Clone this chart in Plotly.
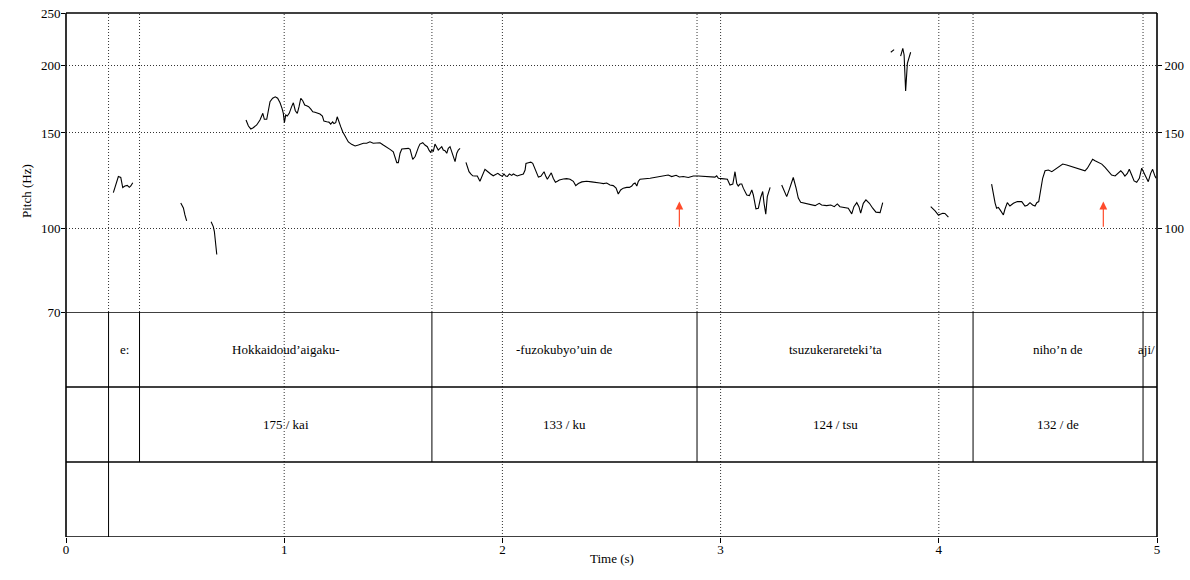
import math
import plotly.graph_objects as go

# ---------------- data ----------------
seg1_t = [0.217, 0.229, 0.240, 0.251, 0.260, 0.270, 0.281, 0.290, 0.297, 0.306]
seg1_hz = [116.4, 121.1, 124.6, 124.1, 118.9, 119.7, 120.0, 119.0, 119.7, 121.4]

seg2_t = [0.526, 0.538, 0.545, 0.553]
seg2_hz = [111.3, 109.0, 105.8, 103.2]

seg3_t = [0.665, 0.675, 0.680, 0.684, 0.691]
seg3_hz = [102.8, 100.7, 98.6, 93.8, 89.4]

seg4_t = [0.825, 0.836, 0.847, 0.858, 0.874, 0.889, 0.902, 0.909, 0.920, 0.929,
          0.935, 0.947, 0.959, 0.970, 0.981, 0.990, 0.996, 1.001, 1.007, 1.014,
          1.023, 1.034, 1.042, 1.051, 1.060, 1.068, 1.076, 1.085, 1.094, 1.103,
          1.112, 1.123, 1.131, 1.141, 1.152, 1.164, 1.175, 1.182, 1.195, 1.205,
          1.213, 1.222, 1.228, 1.236, 1.243, 1.253, 1.259, 1.268, 1.279, 1.294,
          1.309, 1.325, 1.340, 1.363, 1.378, 1.393, 1.408, 1.424, 1.439, 1.454,
          1.470, 1.485, 1.500, 1.508, 1.516, 1.523, 1.531, 1.539, 1.554, 1.569,
          1.577, 1.584, 1.589, 1.600, 1.607, 1.615, 1.622, 1.635, 1.645, 1.656,
          1.665, 1.671, 1.677, 1.683, 1.691, 1.699, 1.706, 1.714, 1.722, 1.729,
          1.737, 1.745, 1.752, 1.760, 1.768, 1.775, 1.783, 1.791, 1.798, 1.806]
seg4_hz = [158.5, 154.5, 152.6, 153.4, 155.2, 158.5, 163.1, 159.0, 159.0, 165.4,
           171.4, 173.9, 175.0, 173.9, 170.6, 166.6, 163.1, 156.7, 161.9, 161.2,
           163.1, 167.8, 170.6, 164.9, 163.1, 167.8, 173.9, 172.1, 169.0, 168.5,
           167.8, 165.9, 164.2, 163.8, 163.1, 162.6, 161.2, 157.8, 157.3, 157.1,
           155.8, 157.3, 156.2, 156.7, 160.7, 157.3, 154.1, 150.8, 147.6, 144.4,
           142.9, 141.9, 142.5, 143.6, 143.6, 144.5, 143.6, 143.9, 143.9, 142.5,
           140.9, 139.9, 138.5, 135.7, 132.2, 132.2, 137.6, 140.1, 140.5, 140.5,
           139.9, 136.6, 134.1, 135.7, 138.5, 141.1, 143.1, 143.9, 142.5, 141.5,
           139.1, 138.2, 139.5, 138.5, 143.1, 141.5, 139.5, 140.5, 141.5, 139.5,
           139.1, 137.6, 140.5, 141.5, 138.5, 135.7, 132.8, 137.6, 139.5, 140.5]

seg5_t = [1.833, 1.841, 1.847, 1.855, 1.864, 1.874, 1.885, 1.897, 1.905, 1.913,
          1.920, 1.928, 1.935, 1.946, 1.958, 1.969, 1.979, 1.989, 2.000, 2.007,
          2.015, 2.023, 2.032, 2.043, 2.050, 2.059, 2.068, 2.081, 2.096, 2.104,
          2.108, 2.119, 2.130, 2.139, 2.148, 2.157, 2.165, 2.176, 2.185, 2.191,
          2.199, 2.206, 2.215, 2.224, 2.233, 2.243, 2.252, 2.261, 2.279, 2.295,
          2.310, 2.325, 2.336, 2.348, 2.364, 2.386, 2.409, 2.432, 2.447, 2.463,
          2.478, 2.493, 2.508, 2.521, 2.531, 2.542, 2.554, 2.570, 2.582, 2.593,
          2.600, 2.608, 2.616, 2.623, 2.631, 2.677, 2.722, 2.760, 2.776, 2.796,
          2.811, 2.829, 2.852, 2.875, 2.898, 2.929, 2.959, 2.974, 2.982, 2.990,
          3.005, 3.031, 3.043, 3.056, 3.066, 3.074, 3.081, 3.089, 3.097, 3.104,
          3.120, 3.132, 3.143, 3.150, 3.162, 3.173, 3.184, 3.193, 3.199, 3.207,
          3.214, 3.227]
seg5_hz = [132.4, 130.0, 127.2, 126.0, 125.0, 124.9, 124.9, 122.1, 124.7, 126.6,
           128.5, 127.7, 127.2, 126.0, 125.0, 125.8, 126.3, 125.4, 124.7, 126.0,
           124.9, 124.7, 126.0, 125.2, 126.0, 125.4, 124.9, 125.4, 126.0, 128.1,
           131.8, 132.2, 132.5, 131.8, 129.1, 126.3, 124.3, 124.7, 126.3, 127.2,
           124.7, 123.2, 124.9, 126.6, 123.7, 121.6, 122.1, 122.8, 123.3, 123.5,
           123.2, 122.1, 119.9, 121.0, 121.8, 122.1, 121.8, 121.6, 121.2, 120.9,
           121.2, 120.2, 119.9, 118.6, 115.7, 117.7, 118.6, 119.0, 119.0, 119.7,
           120.7, 121.2, 119.7, 122.1, 123.2, 123.7, 124.6, 125.4, 124.6, 125.3,
           124.4, 124.6, 124.1, 124.9, 124.9, 124.6, 124.3, 124.3, 125.0, 123.7,
           123.5, 123.2, 120.2, 120.7, 127.2, 121.0, 119.7, 120.7, 120.7, 118.6,
           115.2, 114.9, 117.7, 115.2, 108.6, 108.9, 114.1, 116.9, 111.2, 106.2,
           114.4, 119.0]

seg6_t = [3.280, 3.291, 3.303, 3.315, 3.323, 3.333, 3.346, 3.356, 3.367, 3.387,
          3.410, 3.433, 3.452, 3.463, 3.486, 3.505, 3.521, 3.535, 3.547, 3.570,
          3.585, 3.601, 3.611, 3.624, 3.634, 3.642, 3.654, 3.666, 3.682, 3.697,
          3.712, 3.731, 3.743]
seg6_hz = [120.2, 117.7, 114.4, 118.0, 120.7, 124.1, 118.6, 113.7, 111.7, 111.2,
           110.9, 110.1, 111.2, 110.4, 110.1, 110.4, 109.6, 110.9, 109.6, 109.3,
           108.9, 106.3, 109.6, 111.5, 109.6, 106.6, 111.2, 112.8, 111.2, 108.9,
           107.1, 106.9, 111.5]

seg7_t = [3.780, 3.795]
seg7_hz = [211.5, 213.9]

seg8_t = [3.825, 3.835, 3.841, 3.848, 3.856, 3.871]
seg8_hz = [208.1, 215.1, 209.1, 179.4, 201.8, 211.5]

seg9_t = [3.963, 3.983, 3.998, 4.018, 4.028, 4.044]
seg9_hz = [109.6, 107.7, 105.8, 106.6, 106.5, 104.8]

seg10_t = [4.242, 4.250, 4.258, 4.265, 4.273, 4.281, 4.288, 4.296, 4.303, 4.314,
           4.326, 4.342, 4.360, 4.380, 4.395, 4.406, 4.418, 4.430, 4.441, 4.449,
           4.458, 4.464, 4.476, 4.487, 4.502, 4.518, 4.533, 4.548, 4.568, 4.586,
           4.601, 4.620, 4.639, 4.655, 4.670, 4.681, 4.693, 4.705, 4.716, 4.731,
           4.747, 4.762, 4.777, 4.792, 4.808, 4.823, 4.834, 4.843, 4.853, 4.864,
           4.873, 4.884, 4.895, 4.907, 4.919, 4.930, 4.941, 4.950, 4.960, 4.971,
           4.980, 4.991, 4.996]
seg10_hz = [120.7, 115.2, 111.3, 108.9, 109.3, 108.1, 106.9, 105.8, 108.4, 111.5,
            109.9, 111.2, 112.0, 112.0, 109.9, 110.3, 111.5, 110.4, 109.9, 111.5,
            112.0, 116.0, 123.7, 127.7, 128.1, 127.2, 128.5, 129.9, 131.4, 130.9,
            130.3, 129.6, 129.1, 128.1, 127.7, 129.1, 131.8, 134.1, 133.3, 132.2,
            131.4, 129.6, 127.2, 125.4, 124.9, 126.3, 127.7, 126.6, 124.9, 126.3,
            128.5, 125.4, 122.3, 121.6, 123.7, 129.1, 126.3, 123.7, 121.9, 126.3,
            128.5, 124.7, 123.7]

segments = [(seg1_t, seg1_hz), (seg2_t, seg2_hz), (seg3_t, seg3_hz), (seg4_t, seg4_hz),
            (seg5_t, seg5_hz), (seg6_t, seg6_hz), (seg7_t, seg7_hz), (seg8_t, seg8_hz),
            (seg9_t, seg9_hz), (seg10_t, seg10_hz)]

# TextGrid tiers
tier1_bounds = [0.195, 0.337, 1.677, 2.892, 4.157, 4.936]
tier1_labels = ["", "e:", "Hokkaidoud\u2019aigaku-", "-fuzokubyo\u2019uin de",
                "tsuzukerareteki\u2019ta", "niho\u2019n de", "aji/"]
tier2_bounds = [0.195, 0.337, 1.677, 2.892, 4.157, 4.936]
tier2_labels = ["", "", "175 / kai", "133 / ku", "124 / tsu", "132 / de", ""]
tier3_bounds = [0.195]
tier3_labels = ["", ""]

arrow_times = [2.811, 4.754]
arrow_base_hz = [100, 100]
arrow_tip_hz = [112, 112]

x_ticks = [0, 1, 2, 3, 4, 5]
left_ticks = [70, 100, 150, 200, 250]
right_ticks = [100, 150, 200]
t_min, t_max = 0.0, 5.0
f_min, f_max = 70, 250

# ---------------- figure ----------------
FONT = "Liberation Serif, Times New Roman, serif"
W, H = 1190, 580
PX_L, PX_R, PX_T, PX_B = 66, 1157, 13, 537
PITCH_BOTTOM = 312
ML, MT = PX_L, PX_T
MR, MB = W - PX_R, H - PX_B
plot_w, plot_h = PX_R - PX_L, PX_B - PX_T
split = (PX_B - PITCH_BOTTOM) / plot_h

xs, ys = [], []
for st, sh in segments:
    xs += list(st) + [None]
    ys += list(sh) + [None]

fig = go.Figure()
fig.add_trace(go.Scatter(x=xs, y=ys, mode="lines", line=dict(color="black", width=1.1),
                         connectgaps=False, showlegend=False, hoverinfo="skip",
                         xaxis="x", yaxis="y"))
fig.add_trace(go.Scatter(x=[t_min], y=[0], mode="markers", marker=dict(opacity=0),
                         showlegend=False, hoverinfo="skip", xaxis="x", yaxis="y2"))
fig.add_trace(go.Scatter(x=[t_min], y=[100], mode="markers", marker=dict(opacity=0),
                         showlegend=False, hoverinfo="skip", xaxis="x", yaxis="y3"))

shapes = []
dot = dict(color="#333", width=1, dash="1px,2px")
solid_thick = dict(color="black", width=1.6)
solid_thin = dict(color="black", width=1)

for t in x_ticks[1:-1]:
    shapes.append(dict(type="line", xref="x", yref="paper", x0=t, x1=t, y0=0, y1=1,
                       line=dot, layer="below"))
for t in sorted(set(tier1_bounds + tier2_bounds + tier3_bounds)):
    shapes.append(dict(type="line", xref="x", yref="paper", x0=t, x1=t, y0=split, y1=1,
                       line=dot, layer="below"))

for bounds, (lo, hi) in [(tier1_bounds, (2, 3)), (tier2_bounds, (1, 2)), (tier3_bounds, (0, 1))]:
    for t in bounds:
        shapes.append(dict(type="line", xref="x", yref="y2", x0=t, x1=t, y0=lo, y1=hi,
                           line=solid_thin))

for yv in [0, 1, 2, 3]:
    shapes.append(dict(type="line", xref="x", yref="y2", x0=t_min, x1=t_max, y0=yv, y1=yv,
                       line=solid_thick))
shapes.append(dict(type="line", xref="paper", yref="paper", x0=0, x1=1, y0=1, y1=1, line=solid_thick))
shapes.append(dict(type="line", xref="paper", yref="paper", x0=0, x1=0, y0=0, y1=1, line=solid_thick))
shapes.append(dict(type="line", xref="paper", yref="paper", x0=1, x1=1, y0=0, y1=1, line=solid_thick))

annotations = []


def interval_centers(bounds):
    edges = [t_min] + list(bounds) + [t_max]
    return [(edges[i] + edges[i + 1]) / 2 for i in range(len(edges) - 1)]


for bounds, labels, yc in [(tier1_bounds, tier1_labels, 2.5), (tier2_bounds, tier2_labels, 1.5),
                           (tier3_bounds, tier3_labels, 0.5)]:
    centers = interval_centers(bounds)
    for i, (c, lab) in enumerate(zip(centers, labels)):
        if not lab:
            continue
        last = i == len(labels) - 1
        annotations.append(dict(x=t_max if last else c, xanchor="right" if last else "center",
                                y=yc, xref="x", yref="y2", text=lab, showarrow=False,
                                font=dict(family=FONT, size=13, color="black")))

for t, b, tip in zip(arrow_times, arrow_base_hz, arrow_tip_hz):
    annotations.append(dict(x=t, y=math.log10(tip), xref="x", yref="y",
                            ax=t, ay=math.log10(b), axref="x", ayref="y",
                            text="", showarrow=True, arrowhead=2, arrowsize=1.3,
                            arrowwidth=1.2, arrowcolor="#ff4b2b"))

annotations.append(dict(x=(17 - PX_L) / plot_w, y=1 - ((PX_T + PITCH_BOTTOM) / 2 - PX_T) / plot_h,
                        xref="paper", yref="paper", text="Pitch (Hz)", textangle=-90,
                        showarrow=False, font=dict(family=FONT, size=13, color="black")))
annotations.append(dict(x=0.5, y=-(568 - PX_B) / plot_h, xref="paper", yref="paper",
                        text="Time (s)", showarrow=False,
                        font=dict(family=FONT, size=13, color="black")))

log_range = [math.log10(f_min), math.log10(f_max)]
tickfont = dict(family=FONT, size=13, color="black")
fig.update_layout(
    template="none",
    width=W, height=H,
    margin=dict(l=ML, r=MR, t=MT, b=MB, pad=0, autoexpand=False),
    paper_bgcolor="white", plot_bgcolor="white",
    font=dict(family=FONT, size=13, color="black"),
    xaxis=dict(range=[t_min, t_max], anchor="y2", tickvals=x_ticks, automargin=False,
               ticktext=[str(v) for v in x_ticks], ticks="outside", ticklen=5,
               tickcolor="black", tickfont=tickfont, ticklabelstandoff=-5,
               ticklabeloverflow="allow",
               showgrid=False, zeroline=False, showline=False),
    yaxis=dict(type="log", range=log_range, domain=[split, 1], anchor="x", automargin=False,
               tickvals=left_ticks, ticktext=[str(v) for v in left_ticks],
               ticks="outside", ticklen=4, tickcolor="black", tickfont=tickfont,
               ticklabelstandoff=-2, ticklabeloverflow="allow",
               showgrid=True, gridcolor="#333", gridwidth=1, griddash="1px,2px",
               zeroline=False, showline=False),
    yaxis2=dict(range=[0, 3], domain=[0, split], anchor="x", showticklabels=False,
                automargin=False, ticks="", showgrid=False, zeroline=False, showline=False),
    yaxis3=dict(type="log", range=log_range, overlaying="y", side="right", anchor="x",
                automargin=False, tickvals=right_ticks, ticktext=[str(v) for v in right_ticks],
                ticks="outside", ticklen=4, tickcolor="black", tickfont=tickfont,
                ticklabeloverflow="allow",
                showgrid=False, zeroline=False, showline=False),
    shapes=shapes,
    annotations=annotations,
    showlegend=False,
)

fig.write_html("out.html", config={"displayModeBar": False, "staticPlot": True},
               post_script="document.body.style.margin='0';document.body.style.overflow='hidden';")
